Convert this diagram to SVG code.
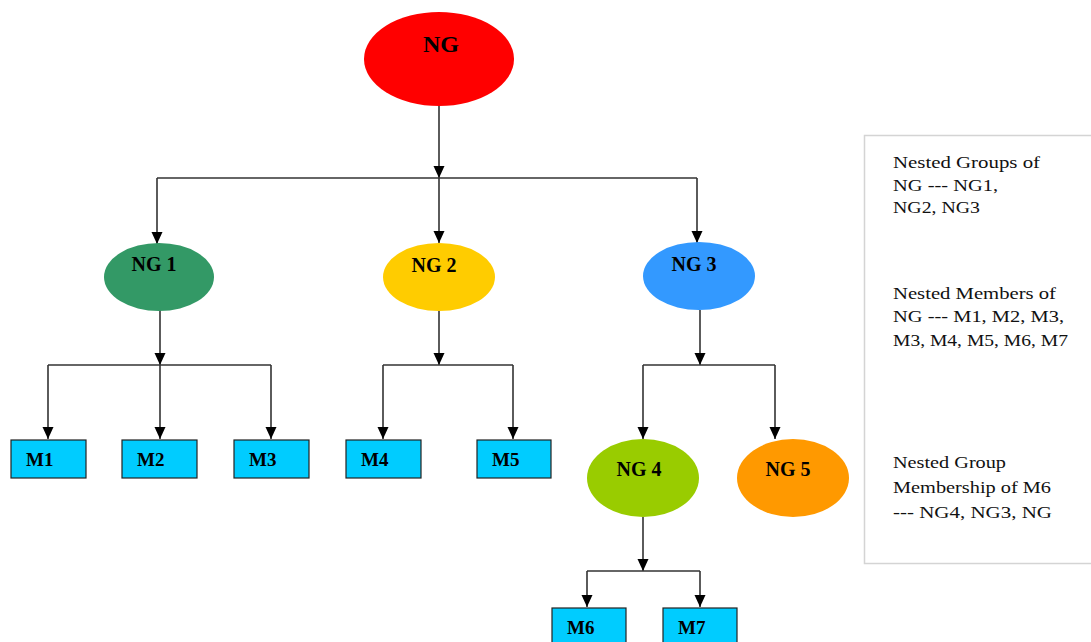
<svg xmlns="http://www.w3.org/2000/svg" width="1091" height="642" viewBox="0 0 1091 642">
<style>
.lbl{font-family:"Liberation Serif","Times New Roman",serif;font-weight:bold;fill:#000}
.ng{font-size:20px}
.m{font-size:19px}
.box{fill:#00ccff;stroke:#222;stroke-width:1.2}
.conn{fill:none;stroke:#333;stroke-width:1.6}
.leg{font-family:"Liberation Serif","Times New Roman",serif;font-size:17px;fill:#111}
</style>
<defs>
<marker id="arr" markerUnits="userSpaceOnUse" markerWidth="13" markerHeight="12" refX="12" refY="5.5" orient="auto">
<path d="M0,0 L12,5.5 L0,11 z" fill="#000"/>
</marker>
</defs>
<rect width="1091" height="642" fill="#fff"/>
<g id="connectors">
<path class="conn" d="M439,106 V178" marker-end="url(#arr)"/>
<path class="conn" d="M157,178 H697"/>
<path class="conn" d="M157,178 V244" marker-end="url(#arr)"/>
<path class="conn" d="M439,178 V243" marker-end="url(#arr)"/>
<path class="conn" d="M697,178 V243" marker-end="url(#arr)"/>
<path class="conn" d="M160,310 V365" marker-end="url(#arr)"/>
<path class="conn" d="M48,365 H271"/>
<path class="conn" d="M48,365 V439" marker-end="url(#arr)"/>
<path class="conn" d="M160,365 V439" marker-end="url(#arr)"/>
<path class="conn" d="M271,365 V439" marker-end="url(#arr)"/>
<path class="conn" d="M439,311 V365" marker-end="url(#arr)"/>
<path class="conn" d="M383,365 H513"/>
<path class="conn" d="M383,365 V439" marker-end="url(#arr)"/>
<path class="conn" d="M513,365 V439" marker-end="url(#arr)"/>
<path class="conn" d="M700,310 V365" marker-end="url(#arr)"/>
<path class="conn" d="M643,365 H775"/>
<path class="conn" d="M643,365 V439" marker-end="url(#arr)"/>
<path class="conn" d="M775,365 V439" marker-end="url(#arr)"/>
<path class="conn" d="M643,517 V571" marker-end="url(#arr)"/>
<path class="conn" d="M587,571 H700"/>
<path class="conn" d="M587,571 V607" marker-end="url(#arr)"/>
<path class="conn" d="M700,571 V607" marker-end="url(#arr)"/>
</g>
<g id="NG">
<ellipse cx="439" cy="59" rx="75" ry="47" fill="#ff0000"/>
<text class="lbl" x="441" y="52" font-size="24" text-anchor="middle">NG</text>
</g>
<g id="NG1">
<ellipse cx="159" cy="277" rx="55" ry="34" fill="#339966"/>
<text class="lbl ng" x="154" y="271" text-anchor="middle">NG 1</text>
</g>
<g id="NG2">
<ellipse cx="439" cy="277" rx="56" ry="34" fill="#ffcc00"/>
<text class="lbl ng" x="434" y="272" text-anchor="middle">NG 2</text>
</g>
<g id="NG3">
<ellipse cx="699" cy="276" rx="56" ry="34" fill="#3399ff"/>
<text class="lbl ng" x="694" y="271" text-anchor="middle">NG 3</text>
</g>
<g id="NG4">
<ellipse cx="643" cy="478" rx="56" ry="39" fill="#99cc00"/>
<text class="lbl ng" x="639" y="476" text-anchor="middle">NG 4</text>
</g>
<g id="NG5">
<ellipse cx="793" cy="478" rx="56" ry="39" fill="#ff9900"/>
<text class="lbl ng" x="788" y="476" text-anchor="middle">NG 5</text>
</g>
<g id="M1"><rect class="box" x="11" y="440" width="75" height="38"/><text class="lbl m" x="26" y="466">M1</text></g>
<g id="M2"><rect class="box" x="122" y="440" width="75" height="38"/><text class="lbl m" x="137" y="466">M2</text></g>
<g id="M3"><rect class="box" x="234" y="440" width="75" height="38"/><text class="lbl m" x="249" y="466">M3</text></g>
<g id="M4"><rect class="box" x="346" y="440" width="75" height="38"/><text class="lbl m" x="361" y="466">M4</text></g>
<g id="M5"><rect class="box" x="477" y="440" width="74" height="38"/><text class="lbl m" x="492" y="466">M5</text></g>
<g id="M6"><rect class="box" x="552" y="608" width="74" height="38"/><text class="lbl m" x="567" y="634">M6</text></g>
<g id="M7"><rect class="box" x="663" y="608" width="74" height="38"/><text class="lbl m" x="678" y="634">M7</text></g>
<g id="legend">
<rect x="864.5" y="135.5" width="240" height="428" fill="#fff" stroke="#d4d4d4" stroke-width="1.5"/>
<text class="leg" x="893" y="168" textLength="147" lengthAdjust="spacingAndGlyphs">Nested Groups of</text>
<text class="leg" x="893" y="191" textLength="105" lengthAdjust="spacingAndGlyphs">NG --- NG1,</text>
<text class="leg" x="893" y="213" textLength="87" lengthAdjust="spacingAndGlyphs">NG2, NG3</text>
<text class="leg" x="893" y="299" textLength="163" lengthAdjust="spacingAndGlyphs">Nested Members of</text>
<text class="leg" x="893" y="322" textLength="171" lengthAdjust="spacingAndGlyphs">NG --- M1, M2, M3,</text>
<text class="leg" x="893" y="346" textLength="175" lengthAdjust="spacingAndGlyphs">M3, M4, M5, M6, M7</text>
<text class="leg" x="893" y="468" textLength="113" lengthAdjust="spacingAndGlyphs">Nested Group</text>
<text class="leg" x="893" y="493" textLength="158" lengthAdjust="spacingAndGlyphs">Membership of M6</text>
<text class="leg" x="893" y="518" textLength="159" lengthAdjust="spacingAndGlyphs">--- NG4, NG3, NG</text>
</g>
</svg>
